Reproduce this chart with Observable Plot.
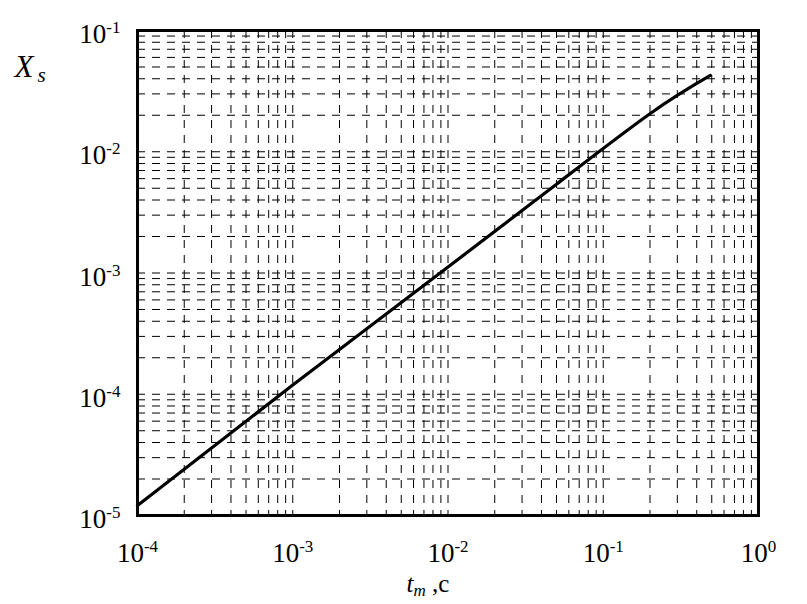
<!DOCTYPE html>
<html>
<head>
<meta charset="utf-8">
<script src="https://cdn.jsdelivr.net/npm/d3@7"></script>
<script src="https://cdn.jsdelivr.net/npm/@observablehq/plot@0.6"></script>
<style>
  html, body { margin: 0; padding: 0; background: #fff; }
  #chart { width: 807px; height: 604px; }
  #chart svg text { font-family: "Liberation Serif", "Times New Roman", serif; }
</style>
</head>
<body>
<div id="chart"></div>
<script>
// Curve X_s(t_m)
const tm = [1e-4, 1e-3, 1e-2, 0.05, 0.201, 0.49];
const Xs = [1.21e-5, 1.19e-4, 1.12e-3, 5.4e-3, 0.0207, 0.0426];

// Axis decades and the minor multipliers of the dashed grid
const xDecades = [1e-4, 1e-3, 1e-2, 1e-1, 1];
const yDecades = [1e-5, 1e-4, 1e-3, 1e-2, 1e-1];
const minorMult = [1, 2, 3, 4, 5, 6, 7, 8, 9];

const data = tm.map((t, i) => ({t, x: Xs[i]}));
const xGrid = xDecades.slice(0, -1).flatMap(d => minorMult.map(m => d * m)).filter(v => v > 1e-4);
const yGrid = yDecades.slice(0, -1).flatMap(d => minorMult.map(m => d * m)).filter(v => v > 1e-5);

const fmt = d => "10^" + Math.round(Math.log10(d));

const plot = Plot.plot({
  width: 807,
  height: 604,
  marginLeft: 137,
  marginRight: 49,
  marginTop: 30,
  marginBottom: 89,
  style: {background: "#fff", color: "#000"},
  x: {type: "log", domain: [1e-4, 1], label: null},
  y: {type: "log", domain: [1e-5, 1e-1], label: null},
  marks: [
    Plot.ruleX(xGrid, {stroke: "#000", strokeWidth: 1, strokeDasharray: "8,7"}),
    Plot.ruleY(yGrid, {stroke: "#000", strokeWidth: 1, strokeDasharray: "8,7"}),
    Plot.line(data, {x: "t", y: "x", stroke: "#000", strokeWidth: 3.2, curve: "natural"}),
    Plot.frame({stroke: "#000", strokeWidth: 3}),
    Plot.axisX({ticks: xDecades, tickFormat: fmt, tickSize: 0, tickPadding: 27, fontSize: 27, label: null}),
    Plot.axisY({ticks: yDecades, tickFormat: fmt, tickSize: 0, tickPadding: 17, fontSize: 27, dy: 4, label: null})
  ]
});

// Turn "10^-k" tick labels into 10 with a superscript exponent
d3.select(plot).selectAll('g[aria-label="x-axis tick label"] text, g[aria-label="y-axis tick label"] text').each(function() {
  const s = this.textContent;
  const parts = s.split("^");
  if (parts.length !== 2) return;
  const el = d3.select(this);
  el.attr("font-size", 27).style("font-size", "27px").style("font-family", "'Liberation Serif', serif");
  el.text(null);
  el.append("tspan").text(parts[0]);
  el.append("tspan").attr("dy", -10).style("font-size", "17px").text(parts[1]);
});

const svg = d3.select(plot);
// y label X_s
const yl = svg.append("text").attr("x", 30).attr("y", 77)
  .style("font-family", "'Liberation Serif', serif").style("font-size", "31px").attr("fill", "#000");
yl.append("tspan").style("font-style", "italic").text("X");
yl.append("tspan").style("font-style", "italic").style("font-size", "21px").attr("dx", 4).attr("dy", 5).text("s");
// x label t_m ,c
const xl = svg.append("text").attr("x", 428).attr("y", 592)
  .style("font-family", "'Liberation Serif', serif").style("font-size", "25px").attr("fill", "#000");
xl.append("tspan").style("font-style", "italic").text("t");
xl.append("tspan").style("font-style", "italic").style("font-size", "17px").attr("dy", 4).text("m");
xl.append("tspan").attr("dy", -4).text(" ,c");

document.getElementById("chart").appendChild(plot);
</script>
</body>
</html>
